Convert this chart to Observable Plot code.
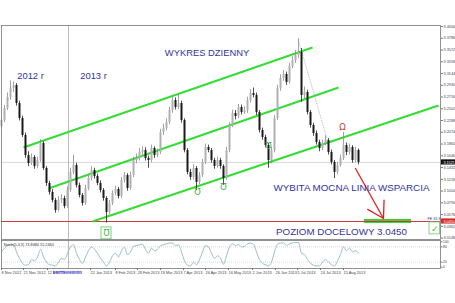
<!DOCTYPE html>
<html><head><meta charset="utf-8">
<script src="https://cdn.jsdelivr.net/npm/d3@7"></script>
<script src="https://cdn.jsdelivr.net/npm/@observablehq/plot@0.6"></script>
<style>
body{margin:0;background:#fff;}
#wrap{position:relative;width:455px;height:303px;overflow:hidden;background:#fff;}
#wrap svg{position:absolute;left:0;overflow:visible;}
</style></head><body><div id="wrap"></div>
<script>
// ---- data (USD/PLN daily, Nov 2012 - Aug 2013) ----
const opens = [3.2180,3.2289,3.2507,3.2708,3.2871,3.2926,3.2598,3.2325,3.2016,3.1652,
3.1506,3.1616,3.1452,3.1561,3.1870,3.1415,3.1142,3.0979,3.0833,3.0651,
3.0833,3.0869,3.0724,3.1015,3.1343,3.1470,3.1106,3.0924,3.0778,3.1051,
3.1233,3.1379,3.1270,3.1142,3.1015,3.0869,3.0615,3.0778,3.0960,3.1033,
3.0906,3.1197,3.1288,3.1051,3.1288,3.1561,3.1597,3.1707,3.1743,3.1597,
3.1561,3.1779,3.1652,3.1707,3.2071,3.2143,3.2253,3.2471,3.2653,3.2526,
3.2598,3.2289,3.1743,3.1343,3.1252,3.1415,3.1161,3.1288,3.1525,3.1798,
3.1743,3.1561,3.1452,3.1561,3.1452,3.1233,3.1743,3.2198,3.2416,3.2362,
3.2526,3.2435,3.2471,3.2653,3.2780,3.2744,3.2435,3.2107,3.1980,3.1834,
3.1561,3.1743,3.2325,3.2871,3.3053,3.3126,3.2981,3.3272,3.3381,3.3472,
3.3527,3.2744,3.2799,3.2435,3.2198,3.2052,3.1889,3.1779,3.1870,3.1925,
3.1707,3.1525,3.1343,3.1470,3.1597,3.1834,3.1707,3.1798,3.1561,3.1743];
const closes = [3.2289,3.2507,3.2708,3.2871,3.2926,3.2598,3.2325,3.2016,3.1652,3.1506,
3.1616,3.1452,3.1561,3.1870,3.1415,3.1142,3.0979,3.0833,3.0651,3.0833,
3.0869,3.0724,3.1015,3.1343,3.1470,3.1106,3.0924,3.0778,3.1051,3.1233,
3.1379,3.1270,3.1142,3.1015,3.0869,3.0615,3.0778,3.0960,3.1033,3.0906,
3.1197,3.1288,3.1051,3.1288,3.1561,3.1597,3.1707,3.1743,3.1597,3.1561,
3.1779,3.1652,3.1707,3.2071,3.2143,3.2253,3.2471,3.2653,3.2526,3.2598,
3.2289,3.1743,3.1343,3.1252,3.1415,3.1161,3.1288,3.1525,3.1798,3.1743,
3.1561,3.1452,3.1561,3.1452,3.1233,3.1743,3.2198,3.2416,3.2362,3.2526,
3.2435,3.2471,3.2653,3.2780,3.2744,3.2435,3.2107,3.1980,3.1834,3.1561,
3.1743,3.2325,3.2871,3.3053,3.3126,3.2981,3.3272,3.3381,3.3472,3.3527,
3.2744,3.2799,3.2435,3.2198,3.2052,3.1889,3.1779,3.1870,3.1925,3.1707,
3.1525,3.1343,3.1470,3.1597,3.1834,3.1707,3.1798,3.1561,3.1743,3.1525];
const highs = [3.2340,3.2560,3.2790,3.3010,3.2990,3.2960,3.2640,3.2370,3.2060,3.1720,
3.1680,3.1650,3.1620,3.1940,3.1900,3.1450,3.1180,3.1030,3.0870,3.0900,
3.0940,3.0910,3.1080,3.1420,3.1660,3.1510,3.1150,3.0960,3.1110,3.1300,
3.1450,3.1420,3.1310,3.1190,3.1050,3.0900,3.0830,3.1010,3.1090,3.1070,
3.1250,3.1340,3.1320,3.1350,3.1620,3.1680,3.1780,3.1810,3.1790,3.1640,
3.1840,3.1810,3.1770,3.2130,3.2220,3.2320,3.2530,3.2740,3.2700,3.2760,
3.2640,3.2320,3.1780,3.1400,3.1480,3.1450,3.1340,3.1580,3.1860,3.1840,
3.1780,3.1600,3.1620,3.1600,3.1480,3.1800,3.2250,3.2480,3.2470,3.2580,
3.2570,3.2540,3.2710,3.2850,3.2880,3.2790,3.2470,3.2150,3.2020,3.1870,
3.1800,3.2380,3.2930,3.3120,3.3200,3.3170,3.3330,3.3450,3.3560,3.3780,
3.3600,3.2900,3.2840,3.2470,3.2240,3.2100,3.1930,3.1930,3.2010,3.1960,
3.1750,3.1560,3.1520,3.1660,3.2070,3.1880,3.1860,3.1830,3.1800,3.1770];
const lows = [3.2130,3.2250,3.2470,3.2660,3.2800,3.2550,3.2280,3.1980,3.1600,3.1450,
3.1470,3.1400,3.1410,3.1530,3.1380,3.1090,3.0930,3.0790,3.0600,3.0620,
3.0780,3.0680,3.0690,3.0980,3.1300,3.1060,3.0880,3.0730,3.0740,3.1010,
3.1190,3.1220,3.1100,3.0970,3.0820,3.0420,3.0570,3.0740,3.0920,3.0860,
3.0870,3.1150,3.1000,3.1020,3.1250,3.1500,3.1550,3.1660,3.1550,3.1420,
3.1520,3.1600,3.1610,3.1670,3.2020,3.2100,3.2210,3.2420,3.2480,3.2490,
3.2240,3.1700,3.1300,3.1200,3.1210,3.1010,3.1120,3.1250,3.1490,3.1700,
3.1510,3.1400,3.1420,3.1400,3.1110,3.1200,3.1700,3.2160,3.2300,3.2320,
3.2390,3.2400,3.2420,3.2610,3.2700,3.2380,3.2060,3.1930,3.1790,3.1420,
3.1500,3.1700,3.2290,3.2820,3.3000,3.2930,3.2950,3.3230,3.3330,3.3420,
3.2620,3.2680,3.2390,3.2150,3.2000,3.1840,3.1720,3.1740,3.1830,3.1660,
3.1480,3.1230,3.1300,3.1440,3.1560,3.1650,3.1660,3.1510,3.1520,3.1480];
const stoch = [60,75,85,90,88,60,35,15,8,10,
30,25,40,70,40,20,10,8,5,20,
35,30,55,80,88,55,30,15,40,65,
80,70,55,35,20,5,20,45,55,40,
65,78,50,60,82,85,88,90,70,55,
75,65,70,85,88,92,95,95,85,88,
60,25,8,5,20,10,30,60,85,80,
55,35,45,35,12,45,80,92,85,90,
80,82,92,95,90,60,30,15,10,5,
20,60,90,95,96,85,92,95,97,97,
55,50,30,15,8,5,5,20,30,20,
10,5,25,50,80,65,75,60,65,55];

const priceTicks = [3.4000,3.3786,3.3572,3.3358,3.3144,3.2930,3.2716,3.2502,3.2288,3.2074,
3.1860,3.1646,3.1432,3.1218,3.1004,3.0790,3.0576,3.0362,3.0148];
const dateTicks = [0,7.33,15.33,29.67,38,45.33,53,60.67,68,75.67,83.67,91.33,98.67,106.33,114];
const dateLabels = ["8 Nov 2012","21 Nov 2012","12 Dec 2012","22 Jan 2013","8 Feb 2013","28 Feb 2013",
"19 Mar 2013","7 Apr 2013","26 Apr 2013","16 May 2013","2 Jun 2013","26 Jun 2013","5 Jul 2013","24 Jul 2013","15 Aug 2013"];
const stochTicks = [0,20,80,100];

const targetLevel = 3.0450;
const yearSplit = 22.33;           // bar position of 1 Jan 2013
const channelX1 = [7.33, 15.67, 30.33];
const channelY1 = [3.1798, 3.1051, 3.0451];
const channelX2 = [103.67, 112.33, 145.67];
const channelY2 = [3.3618, 3.2890, 3.2562];

const noteText = ["2012 r","2013 r","WYKRES DZIENNY","WYBITA MOCNA LINIA WSPARCIA","POZIOM DOCELOWY 3.0450"];
const noteX = [9.67, 30.67, 68.5, 116.67, 113.33];
const noteY = [3.3090, 3.3090, 3.3514, 3.1070, 3.0269];
const noteSize = [9.4, 9.4, 9.4, 9.8, 9.8];

const upMarkX = [65.33, 74, 89];
const upMarkY = [3.0979, 3.1070, 3.1816];

// ---- build ----
const bars = closes.map((c,i)=>({i, o:opens[i], h:highs[i], l:lows[i], c, up: c >= opens[i]}));
const lastClose = closes[closes.length-1];
const channels = channelX1.map((x,k)=>({x1:x, y1:channelY1[k], x2:channelX2[k], y2:channelY2[k]}));
const notes = noteText.map((t,k)=>({t, x:noteX[k], y:noteY[k], s:noteSize[k]}));
const ups = upMarkX.map((x,k)=>({x, y:upMarkY[k]}));
const XD = [0, 146.33];
const FONT = "Liberation Sans, Arial, sans-serif";
const BLUE = "#34349a";
const GREEN = "#35dc35";
const GLYPH = "Ʊ";

const main = Plot.plot({
  width:455, height:240, marginTop:25, marginBottom:1, marginLeft:1, marginRight:15,
  x:{domain:XD, axis:null, label:null},
  y:{domain:[3.0122,3.4018], axis:null, label:null},
  style:{fontFamily:FONT, background:"transparent"},
  marks:[
    Plot.ruleY([lastClose], {stroke:"#cfcfcf", strokeWidth:0.8}),
    Plot.ruleX([yearSplit], {stroke:"#a8a8a8", strokeWidth:0.8}),
    Plot.rect([{x1:121, x2:136.67, y1:3.0414, y2:3.0487}], {x1:"x1", x2:"x2", y1:"y1", y2:"y2", fill:"#36cf36"}),
    Plot.ruleY([targetLevel], {stroke:"#d23a3a", strokeWidth:1.1}),
    Plot.link(channels, {x1:"x1", y1:"y1", x2:"x2", y2:"y2", stroke:GREEN, strokeWidth:2}),
    Plot.link([{x1:99, y1:3.3745, x2:108.67, y2:3.1925}], {x1:"x1", y1:"y1", x2:"x2", y2:"y2", stroke:"#9a9a9a", strokeWidth:0.6, strokeDasharray:"1.5,1"}),
    Plot.ruleX(bars, {x:"i", y1:"l", y2:"h", stroke:d=>d.up?"#8a8a8a":"#222", strokeWidth:0.8}),
    Plot.ruleX(bars, {x:"i", y1:"o", y2:"c", stroke:d=>d.up?"#b0b0b0":"#1a1a1a", strokeWidth:2}),
    Plot.arrow([{x1:118, y1:3.1415, x2:127.33, y2:3.0505}], {x1:"x1", y1:"y1", x2:"x2", y2:"y2", stroke:"#e02020", strokeWidth:1.3, headLength:21, headAngle:62}),
    Plot.text(notes, {x:"x", y:"y", text:"t", fontSize:"s", fill:BLUE}),
    Plot.text(ups, {x:"x", y:"y", text:()=>GLYPH, fill:"#3fb03f", fontSize:8.5, fontFamily:"DejaVu Sans"}),
    Plot.text([{x:113.67, y:3.2198}], {x:"x", y:"y", text:()=>GLYPH, rotate:180, fill:"#d03030", fontSize:8.5, fontFamily:"DejaVu Sans"}),
    Plot.rect([{x1:33.33, x2:36.67, y1:3.0125, y2:3.0342}], {x1:"x1", x2:"x2", y1:"y1", y2:"y2", fill:"none", stroke:"#55c855", strokeWidth:0.8}),
    Plot.text([{x:35, y:3.0228}], {x:"x", y:"y", text:()=>GLYPH, fill:"#3fb03f", fontSize:8, fontFamily:"DejaVu Sans"}),
    Plot.rect([{x1:142.67, x2:146.2, y1:3.0215, y2:3.0433}], {x1:"x1", x2:"x2", y1:"y1", y2:"y2", fill:"none", stroke:"#66cc66", strokeWidth:0.8}),
    Plot.text([{x:144.45, y:3.0320}], {x:"x", y:"y", text:()=>"✓", fill:"#33bb33", fontSize:9, fontFamily:"DejaVu Sans"}),
    Plot.text([{x:144.2, y:3.0505}], {x:"x", y:"y", text:()=>"FE 61.8", fill:BLUE, fontSize:3.8}),
    Plot.frame({stroke:"#777", strokeWidth:0.8}),
    Plot.axisY(priceTicks, {anchor:"right", tickSize:2, tickPadding:1, fontSize:3.8, fill:"#444", stroke:"#777", tickFormat:d=>d.toFixed(4), label:null}),
    Plot.rect([{x1:146.67, x2:151.7, y1:lastClose-0.0047, y2:lastClose+0.0047}], {x1:"x1", x2:"x2", y1:"y1", y2:"y2", fill:"#111"}),
    Plot.text([lastClose], {x:149.2, y:d=>d, text:d=>d.toFixed(4), fill:"#fff", fontSize:3.6}),
    Plot.rect([{x1:146.67, x2:151.7, y1:targetLevel-0.0047, y2:targetLevel+0.0047}], {x1:"x1", x2:"x2", y1:"y1", y2:"y2", fill:"#d42a2a"}),
    Plot.text([targetLevel], {x:149.2, y:d=>d, text:d=>d.toFixed(4), fill:"#fff", fontSize:3.6})
  ]
});
main.style.top = "0px";

const ind = Plot.plot({
  width:455, height:64, marginTop:1, marginBottom:35, marginLeft:1, marginRight:15,
  x:{domain:XD, axis:null, label:null},
  y:{domain:[-5,105], axis:null, label:null},
  style:{fontFamily:FONT, background:"transparent"},
  marks:[
    Plot.ruleY([20,80], {stroke:"#c4c4c4", strokeWidth:0.6, strokeDasharray:"1,1"}),
    Plot.ruleX([yearSplit], {stroke:"#a8a8a8", strokeWidth:0.8}),
    Plot.lineY(stoch, {x:(d,i)=>i, y:d=>d, stroke:"#8dbaba", strokeWidth:0.9, curve:"monotone-x"}),
    Plot.frame({stroke:"#777", strokeWidth:0.8}),
    Plot.text(["Stoch(5,3,3) 73.8484 55.2460"], {frameAnchor:"top-left", dx:2, dy:3, fontSize:3.8, fill:"#333", textAnchor:"start"}),
    Plot.axisY(stochTicks, {anchor:"right", tickSize:1.5, tickPadding:1, fontSize:3.4, fill:"#444", stroke:"#777", label:null}),
    Plot.axisX(dateTicks, {anchor:"bottom", tickSize:2, tickPadding:1, fontSize:3.9, fill:"#444", stroke:"#777", textAnchor:"start", tickFormat:d=>dateLabels[dateTicks.indexOf(d)], label:null}),
    Plot.rect([{x1:17.33, x2:27, y1:-16.5, y2:-28.5}], {x1:"x1", x2:"x2", y1:"y1", y2:"y2", fill:"#6a6ad6"}),
    Plot.text([yearSplit], {x:d=>d, y:-22.5, text:()=>"1 Jan 2013 00:00", fill:"#fff", fontSize:3.6})
  ]
});
ind.style.top = "239px";

const wrap = document.getElementById("wrap");
wrap.appendChild(main);
wrap.appendChild(ind);
</script></body></html>
